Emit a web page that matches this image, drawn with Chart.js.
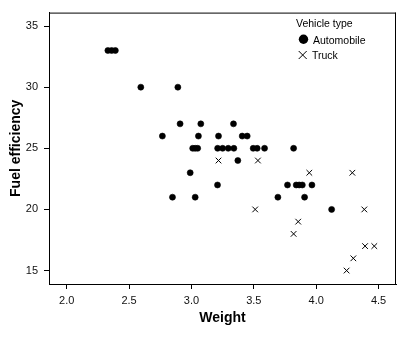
<!DOCTYPE html>
<html>
<head>
<meta charset="utf-8">
<script src="https://cdn.jsdelivr.net/npm/chart.js@4"></script>
<style>
  html, body { margin: 0; padding: 0; background: #fff; }
  #wrap { position: relative; width: 406px; height: 339px; }
  canvas { display: block; }
  .lg { position: absolute; font-family: 'Liberation Sans', Arial, sans-serif; font-size: 10.5px; line-height: 12px; color: #000; white-space: nowrap; }
</style>
</head>
<body>
<div id="wrap">
  <canvas id="c" width="406" height="339"></canvas>
  <div class="lg" style="left:296px; top:17px;">Vehicle type</div>
  <svg style="position:absolute; left:296px; top:32px;" width="16" height="16">
    <circle cx="7.5" cy="7.3" r="4.7" fill="#000"/>
  </svg>
  <div class="lg" style="left:313px; top:33.5px;">Automobile</div>
  <svg style="position:absolute; left:296px; top:48px;" width="16" height="16">
    <path d="M2.7 3 L10.7 11 M10.7 3 L2.7 11" stroke="#000" stroke-width="1" fill="none"/>
  </svg>
  <div class="lg" style="left:312px; top:49.3px;">Truck</div>
</div>
<script>
// ---- data ----
const autoWeight = [2.33, 2.36, 2.39,
                    2.594, 2.891,
                    2.909, 3.075, 3.337,
                    2.767, 3.056, 3.217, 3.407, 3.447,
                    3.01, 3.03, 3.05, 3.21, 3.25, 3.295, 3.34, 3.495, 3.527, 3.586, 3.819,
                    3.372,
                    2.99,
                    3.209, 3.77, 3.84, 3.864, 3.889, 3.966,
                    2.848, 3.03, 3.693, 3.907,
                    4.124];
const autoMpg    = [33, 33, 33,
                    30, 30,
                    27, 27, 27,
                    26, 26, 26, 26, 26,
                    25, 25, 25, 25, 25, 25, 25, 25, 25, 25, 25,
                    24,
                    23,
                    22, 22, 22, 22, 22, 22,
                    21, 21, 21, 21,
                    20];
const truckWeight = [3.217, 3.533, 3.945, 4.29, 3.511, 4.386, 3.856, 3.819, 4.392, 4.466, 4.298, 4.244];
const truckMpg    = [24, 24, 23, 23, 20, 20, 19, 18, 17, 17, 16, 15];
const seriesNames = ['Automobile', 'Truck'];
const xTicks = [2.0, 2.5, 3.0, 3.5, 4.0, 4.5];
const yTicks = [15, 20, 25, 30, 35];
const xTitle = 'Weight';
const yTitle = 'Fuel efficiency';
const legendTitle = 'Vehicle type';

const toPts = (xs, ys) => xs.map((x, i) => ({ x: x, y: ys[i] }));

const FONT = "'Liberation Sans', Arial, sans-serif";

const boxPlugin = {
  id: 'box',
  afterDraw(chart) {
    const { ctx, chartArea: a } = chart;
    ctx.save();
    ctx.strokeStyle = '#000';
    ctx.lineWidth = 1;
    ctx.beginPath();
    ctx.moveTo(a.left, a.top + 0.5);
    ctx.lineTo(a.right, a.top + 0.5);
    ctx.moveTo(a.right - 0.5, a.top);
    ctx.lineTo(a.right - 0.5, a.bottom + 1);
    ctx.stroke();
    ctx.restore();
  }
};

new Chart(document.getElementById('c'), {
  type: 'scatter',
  data: {
    datasets: [
      {
        label: seriesNames[0],
        data: toPts(autoWeight, autoMpg),
        pointStyle: 'circle',
        pointRadius: 3,
        pointHoverRadius: 3,
        backgroundColor: '#000',
        borderColor: '#000',
        borderWidth: 0.6
      },
      {
        label: seriesNames[1],
        data: toPts(truckWeight, truckMpg),
        pointStyle: 'crossRot',
        pointRadius: 4,
        pointHoverRadius: 4,
        backgroundColor: '#000',
        borderColor: '#000',
        borderWidth: 1
      }
    ]
  },
  options: {
    responsive: false,
    animation: false,
    devicePixelRatio: 1,
    layout: { padding: { left: 0, right: 10, top: 7, bottom: 0 } },
    plugins: {
      legend: { display: false },
      tooltip: { enabled: false }
    },
    scales: {
      x: {
        type: 'linear',
        min: 1.858,
        max: 4.64,
        afterBuildTicks: s => { s.ticks = xTicks.map(v => ({ value: v })); },
        afterFit: s => { s.height = 55; },
        grid: { drawOnChartArea: false, drawTicks: true, tickLength: 5, color: '#000', lineWidth: 1 },
        border: { display: true, color: '#000', width: 1 },
        ticks: {
          padding: 5,
          color: '#111',
          font: { family: FONT, size: 11 },
          callback: v => Number(v).toFixed(1),
          maxRotation: 0
        },
        title: {
          display: true,
          text: xTitle,
          color: '#000',
          font: { family: FONT, size: 14, weight: 'bold' },
          padding: { top: 0, bottom: 12.5 }
        }
      },
      y: {
        type: 'linear',
        min: 13.9,
        max: 36.1,
        afterBuildTicks: s => { s.ticks = yTicks.map(v => ({ value: v })); },
        afterFit: s => { s.width = 49; },
        grid: { drawOnChartArea: false, drawTicks: true, tickLength: 5, color: '#000', lineWidth: 1 },
        border: { display: true, color: '#000', width: 1 },
        ticks: {
          padding: 6,
          color: '#111',
          font: { family: FONT, size: 11 },
          callback: v => String(v)
        },
        title: {
          display: true,
          text: yTitle,
          color: '#000',
          font: { family: FONT, size: 14, weight: 'bold' },
          padding: { top: 7.5, bottom: 0 }
        }
      }
    }
  },
  plugins: [boxPlugin]
});
</script>
</body>
</html>
